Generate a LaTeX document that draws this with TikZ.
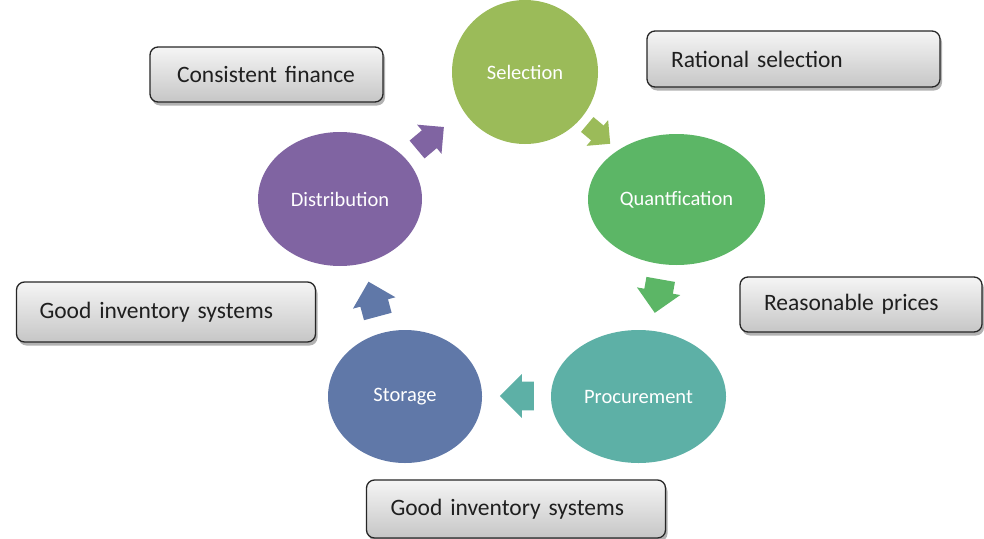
\documentclass[tikz,border=0pt]{standalone}
\usepackage{fontspec}
\setmainfont{Carlito}
\usetikzlibrary{shapes.geometric,shapes.arrows,shadows}
\definecolor{cSel}{RGB}{155,187,89}
\definecolor{cQua}{RGB}{92,182,102}
\definecolor{cPro}{RGB}{93,176,166}
\definecolor{cSto}{RGB}{96,120,168}
\definecolor{cDis}{RGB}{128,100,162}
\definecolor{boxTop}{RGB}{245,245,245}
\definecolor{boxBot}{RGB}{198,198,198}
\definecolor{boxLine}{RGB}{38,38,38}
\begin{document}
\begin{tikzpicture}[x=1pt,y=-1pt,
  stage/.style={ellipse, inner sep=0pt, fill=#1, text=white,
    font=\fontsize{20.5}{24}\selectfont},
  flow/.style={single arrow, fill=#1, draw=none, inner sep=0pt,
    text height=0pt, text depth=0pt, single arrow head indent=0pt},
  note/.style={rectangle, rounded corners=8pt, draw=boxLine, line width=1.3pt,
    top color=boxTop, bottom color=boxBot,
    drop shadow={shadow xshift=2pt, shadow yshift=-3.5pt, fill=black, opacity=0.3},
    align=left, inner ysep=0pt, text=black!88,
    font=\fontsize{23.5}{28}\selectfont}
]
\useasboundingbox (0,0) rectangle (984,538);

% stages of the cycle
\node[stage=cSel, minimum width=146pt, minimum height=144pt] (sel) at (525,72) {Selection};
\node[stage=cQua, minimum width=177pt, minimum height=131pt] (qua) at (676.5,199.5) {Quantfication};
\node[stage=cPro, minimum width=175pt, minimum height=133pt] (pro) at (638.5,396.5) {Procurement};
\node[stage=cSto, minimum width=154pt, minimum height=133pt] (sto) at (405,396.5) {Storage};
\node[stage=cDis, minimum width=164pt, minimum height=134pt] (dis) at (340,199) {Distribution};

% block arrows between the stages
\node[flow=cSel, minimum height=30pt, minimum width=32pt, text width=0pt, inner ysep=9.5pt, rotate=-40] (a1) at (595,131) {};
\node[flow=cQua, minimum height=34pt, minimum width=44pt, text width=0pt, inner ysep=13.5pt, rotate=-100] (a2) at (659,289) {};
\node[flow=cPro, minimum height=34pt, minimum width=44pt, text width=0pt, inner ysep=13.5pt, rotate=180] (a3) at (524,396) {};
\node[flow=cSto, minimum height=36pt, minimum width=44pt, text width=0pt, inner ysep=13pt, rotate=105] (a4) at (375,306) {};
\node[flow=cDis, minimum height=35pt, minimum width=38pt, text width=0pt, inner ysep=11pt, rotate=40] (a5) at (426,142) {};

% requirement notes
\node[note, minimum width=233pt, minimum height=55pt, inner xsep=27pt, text width=179pt] (fin) at (266.5,74.5) {\mbox{Consistent finance}};
\node[note, minimum width=293pt, minimum height=56pt, inner xsep=24pt, text width=245pt] (rat) at (793.5,59) {\mbox{Rational selection}};
\node[note, minimum width=242pt, minimum height=55pt, inner xsep=24pt, text width=194pt] (pri) at (861,304.5) {\mbox{Reasonable prices}};
\node[note, minimum width=299pt, minimum height=60pt, inner xsep=23pt, text width=253pt] (inv1) at (166,312) {\mbox{Good inventory systems}};
\node[note, minimum width=299pt, minimum height=58pt, inner xsep=24pt, text width=251pt] (inv2) at (516,509) {\mbox{Good inventory systems}};
\end{tikzpicture}
\end{document}
